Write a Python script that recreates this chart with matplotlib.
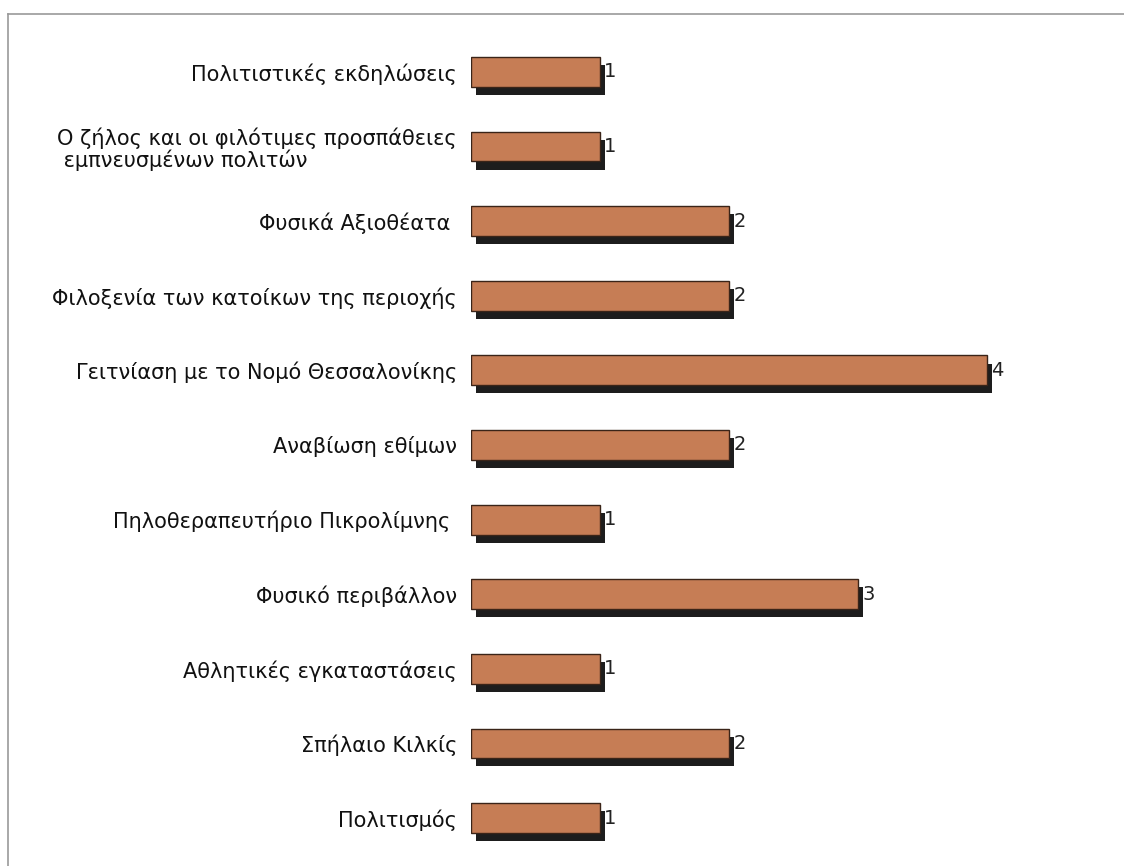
import matplotlib
matplotlib.use("Agg")
import matplotlib.pyplot as plt
import matplotlib.patheffects as pe
from matplotlib.lines import Line2D

categories = [
    "Πολιτιστικές εκδηλώσεις",
    "Ο ζήλος και οι φιλότιμες προσπάθειες\n εμπνευσμένων πολιτών",
    "Φυσικά Αξιοθέατα ",
    "Φιλοξενία των κατοίκων της περιοχής",
    "Γειτνίαση με το Νομό Θεσσαλονίκης",
    "Αναβίωση εθίμων",
    "Πηλοθεραπευτήριο Πικρολίμνης ",
    "Φυσικό περιβάλλον",
    "Αθλητικές εγκαταστάσεις",
    "Σπήλαιο Κιλκίς",
    "Πολιτισμός",
]
values = [1, 1, 2, 2, 4, 2, 1, 3, 1, 2, 1]

plt.rcParams['font.family'] = ['DejaVu Sans']

fig = plt.figure(figsize=(11.24, 8.66), dpi=100)
fig.patch.set_facecolor('white')
ax = fig.add_axes([471/1124, 0, 1 - 471/1124, 852/866])
ax.set_facecolor('none')

pos = list(range(len(categories)))
bars = ax.barh(pos, values, height=0.40, color='#c67d55', edgecolor='#3a2418',
               linewidth=1.0, zorder=3)
for b in bars:
    b.set_path_effects([pe.SimplePatchShadow(offset=(3.8, -5.8), shadow_rgbFace='#111111', alpha=0.95),
                        pe.Normal()])

for p, v in zip(pos, values):
    ax.annotate(str(v), xy=(v, p), xytext=(3, 0), textcoords='offset points',
                ha='left', va='center', fontsize=14, color='#222222', zorder=4)

ax.set_xlim(0, (1124 - 471) / 129)
ax.set_ylim(10.643, -0.777)
ax.set_yticks(pos)
ax.set_yticklabels(categories, fontsize=15, color='#111111', multialignment='left',
                   linespacing=1.05)
ax.tick_params(axis='y', length=0, pad=10)
ax.set_xticks([])
for s in ax.spines.values():
    s.set_visible(False)

# frame lines
fig.add_artist(Line2D([8/1124, 8/1124], [0, 1 - 14/866], color='#999999', lw=1.2))
fig.add_artist(Line2D([8/1124, 1], [1 - 14/866, 1 - 14/866], color='#999999', lw=1.2))

fig.savefig('out.png', dpi=100)
